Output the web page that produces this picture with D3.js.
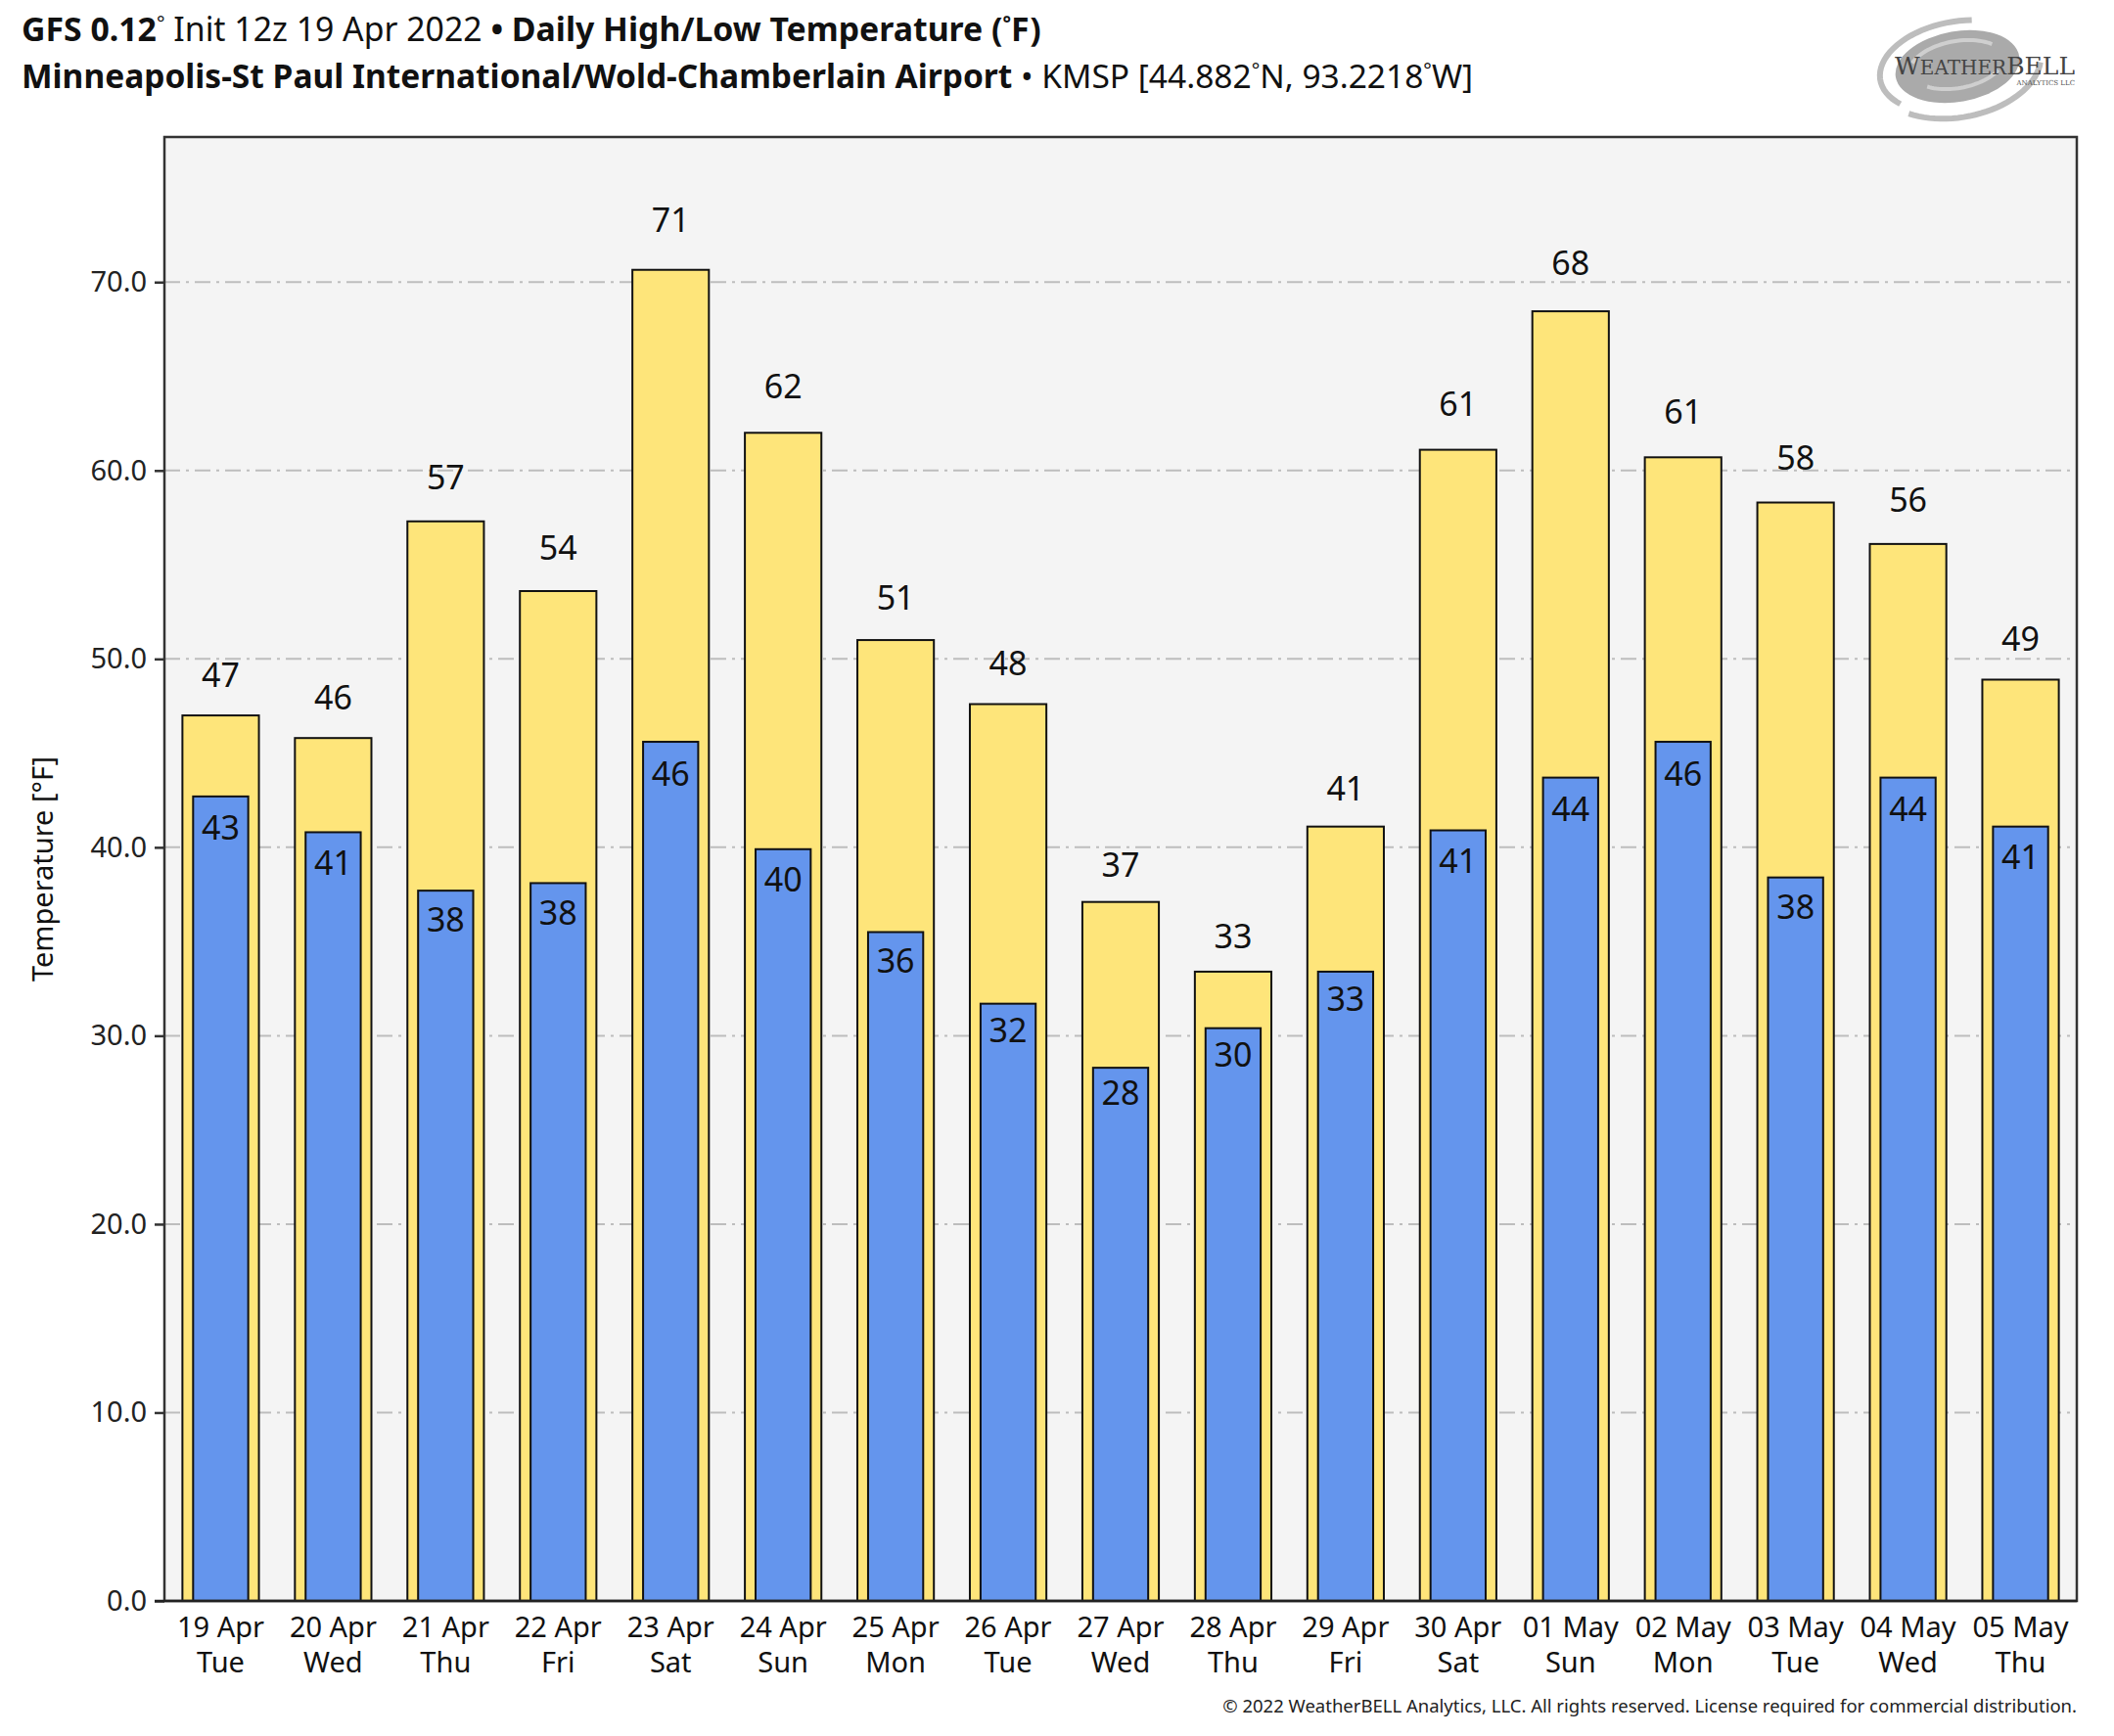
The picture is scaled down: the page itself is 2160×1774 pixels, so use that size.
<!DOCTYPE html>
<html>
<head>
<meta charset="utf-8">
<script src="https://cdn.jsdelivr.net/npm/d3@7"></script>
<style>
html,body{margin:0;padding:0;background:#fff;}
svg{display:block;font-family:"Noto Sans",sans-serif;}
</style>
</head>
<body>
<svg id="chart" width="2160" height="1774"></svg>
<script>
const dates = ["19 Apr","20 Apr","21 Apr","22 Apr","23 Apr","24 Apr","25 Apr","26 Apr","27 Apr","28 Apr","29 Apr","30 Apr","01 May","02 May","03 May","04 May","05 May"];
const weekdays = ["Tue","Wed","Thu","Fri","Sat","Sun","Mon","Tue","Wed","Thu","Fri","Sat","Sun","Mon","Tue","Wed","Thu"];
const highs = [47.0,45.8,57.3,53.6,70.65,62.0,51.0,47.6,37.1,33.4,41.1,61.1,68.45,60.7,58.3,56.1,48.9];
const lows  = [42.7,40.8,37.7,38.1,45.6,39.9,35.5,31.7,28.3,30.4,33.4,40.9,43.7,45.6,38.4,43.7,41.1];
const yTicks = [0,10,20,30,40,50,60,70];

const svg = d3.select("#chart");
const L = 168, R = 2122, T = 140, B = 1636;

const x = d3.scaleBand().domain(dates).range([L, R]).padding(0);
const y = d3.scaleLinear().domain([0, 77.7]).range([B, T]);

// plot background
svg.append("rect").attr("x", L).attr("y", T).attr("width", R - L).attr("height", B - T).attr("fill", "#f4f4f4");

// grid
svg.append("g").selectAll("line").data(yTicks.filter(d => d > 0)).join("line")
  .attr("x1", L).attr("x2", R).attr("y1", d => y(d)).attr("y2", d => y(d))
  .attr("stroke", "#bdbdbd").attr("stroke-width", 2).attr("stroke-dasharray", "16,6,3,6");

// y axis
const yAxis = d3.axisLeft(y).tickValues(yTicks).tickFormat(d3.format(".1f")).tickSize(10).tickPadding(8);
const gy = svg.append("g").attr("transform", `translate(${L},0)`).call(yAxis);
gy.select(".domain").remove();
gy.selectAll(".tick line").attr("stroke", "#333").attr("stroke-width", 2.5);
gy.selectAll(".tick text").attr("font-size", 29).attr("fill", "#222").attr("font-family", "Noto Sans");

// bars
const bw = x.bandwidth();
const hiW = bw * 0.68, loW = bw * 0.49;
const cx = d => x(d) + bw / 2;

svg.append("g").selectAll("rect").data(dates).join("rect")
  .attr("x", (d) => cx(d) - hiW / 2).attr("width", hiW)
  .attr("y", (d, i) => y(highs[i])).attr("height", (d, i) => y(0) - y(highs[i]))
  .attr("fill", "#fee57a").attr("stroke", "#111").attr("stroke-width", 2);

svg.append("g").selectAll("rect").data(dates).join("rect")
  .attr("x", (d) => cx(d) - loW / 2).attr("width", loW)
  .attr("y", (d, i) => y(lows[i])).attr("height", (d, i) => y(0) - y(lows[i]))
  .attr("fill", "#6495ed").attr("stroke", "#111").attr("stroke-width", 2);

// value labels
svg.append("g").selectAll("text").data(dates).join("text")
  .attr("x", d => cx(d)).attr("y", (d, i) => y(highs[i] * 1.02 + 1.2) + 12)
  .attr("text-anchor", "middle").attr("font-size", 34).attr("fill", "#111")
  .text((d, i) => Math.round(highs[i]));

svg.append("g").selectAll("text").data(dates).join("text")
  .attr("x", d => cx(d)).attr("y", (d, i) => y(lows[i] * 0.98 - 0.8) + 12)
  .attr("text-anchor", "middle").attr("font-size", 34).attr("fill", "#111")
  .text((d, i) => Math.round(lows[i]));

// frame
svg.append("rect").attr("x", L).attr("y", T).attr("width", R - L).attr("height", B - T)
  .attr("fill", "none").attr("stroke", "#333").attr("stroke-width", 2.5);
svg.append("line").attr("x1", L - 10).attr("x2", R).attr("y1", B).attr("y2", B).attr("stroke", "#222").attr("stroke-width", 2.5);

// x axis labels
svg.append("g").selectAll("text").data(dates).join("text")
  .attr("x", d => cx(d)).attr("y", 1673).attr("text-anchor", "middle").attr("font-size", 29).attr("fill", "#111")
  .text(d => d);
svg.append("g").selectAll("text").data(dates).join("text")
  .attr("x", d => cx(d)).attr("y", 1709).attr("text-anchor", "middle").attr("font-size", 29).attr("fill", "#111")
  .text((d, i) => weekdays[i]);

// y axis title
svg.append("text").attr("transform", `translate(54,${(T + B) / 2}) rotate(-90)`)
  .attr("text-anchor", "middle").attr("font-size", 29).attr("fill", "#111").text("Temperature [°F]");

// titles
const t1 = svg.append("text").attr("x", 22).attr("y", 42).attr("font-size", 33.8).attr("fill", "#111");
t1.append("tspan").attr("font-weight", "bold").text("GFS 0.12");
t1.append("tspan").attr("font-size", 20).attr("dy", -11).text("°");
t1.append("tspan").attr("dy", 11).text(" Init 12z 19 Apr 2022 ");
t1.append("tspan").attr("font-weight", "bold").text("• Daily High/Low Temperature (");
t1.append("tspan").attr("font-weight", "bold").attr("font-size", 20).attr("dy", -11).text("°");
t1.append("tspan").attr("font-weight", "bold").attr("dy", 11).text("F)");

const t2 = svg.append("text").attr("x", 22).attr("y", 90).attr("font-size", 33.5).attr("fill", "#111");
t2.append("tspan").attr("font-weight", "bold").text("Minneapolis-St Paul International/Wold-Chamberlain Airport");
t2.append("tspan").text(" • KMSP [44.882");
t2.append("tspan").attr("font-size", 20).attr("dy", -11).text("°");
t2.append("tspan").attr("dy", 11).text("N, 93.2218");
t2.append("tspan").attr("font-size", 20).attr("dy", -11).text("°");
t2.append("tspan").attr("dy", 11).text("W]");

// copyright
svg.append("text").attr("x", R).attr("y", 1750).attr("text-anchor", "end").attr("font-size", 18.5).attr("fill", "#222")
  .text("© 2022 WeatherBELL Analytics, LLC. All rights reserved. License required for commercial distribution.");

// logo
const swirl = (rx, ry, a0, a1) => {
  const p = d3.path();
  const n = 30;
  for (let k = 0; k <= n; k++) {
    const a = a0 + (a1 - a0) * k / n;
    const px = rx * Math.cos(a), py = ry * Math.sin(a);
    if (k === 0) p.moveTo(px, py); else p.lineTo(px, py);
  }
  return p.toString();
};
const logo = svg.append("g").attr("transform", "translate(2000,68) rotate(-10)");
logo.append("ellipse").attr("rx", 64).attr("ry", 36).attr("fill", "#aaaaaa");
logo.append("path").attr("d", swirl(80, 46, 2.5, 5.0)).attr("fill", "none").attr("stroke", "#bdbdbd").attr("stroke-width", 6);
logo.append("path").attr("d", swirl(86, 52, 0.2, 2.3)).attr("fill", "none").attr("stroke", "#bdbdbd").attr("stroke-width", 6);
logo.append("path").attr("d", swirl(50, 26, 3.6, 5.6)).attr("fill", "none").attr("stroke", "#cfcfcf").attr("stroke-width", 4);
logo.append("path").attr("d", swirl(46, 22, 0.5, 2.4)).attr("fill", "none").attr("stroke", "#cfcfcf").attr("stroke-width", 4);
svg.append("text").attr("x", 2120).attr("y", 76).attr("text-anchor", "end")
  .attr("font-family", "DejaVu Serif, serif").attr("font-size", 20).attr("fill", "#444")
  .html('<tspan font-size="25">W</tspan>EATHER<tspan font-size="25">BELL</tspan>');
svg.append("text").attr("x", 2120).attr("y", 87).attr("text-anchor", "end")
  .attr("font-family", "DejaVu Serif, serif").attr("font-size", 7).attr("fill", "#555").text("ANALYTICS LLC");
</script>
</body>
</html>
